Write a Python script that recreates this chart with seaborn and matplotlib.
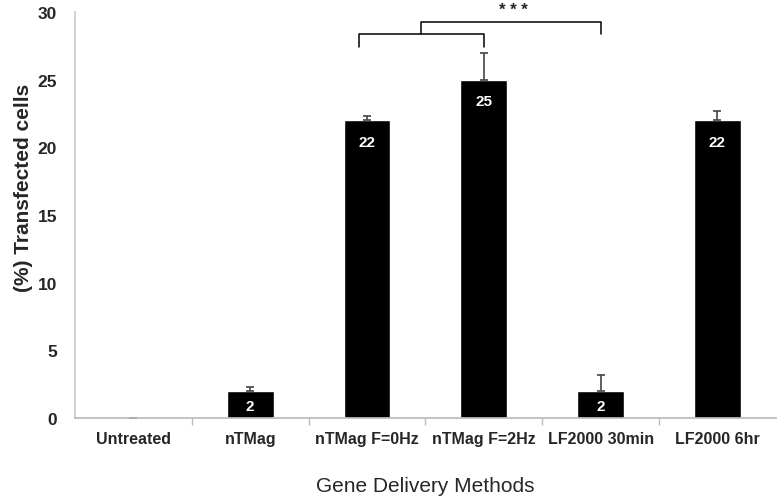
import numpy as np
import pandas as pd
import seaborn as sns
import matplotlib.pyplot as plt

methods = ["Untreated", "nTMag", "nTMag F=0Hz", "nTMag F=2Hz", "LF2000 30min", "LF2000 6hr"]
transfected = [0, 2, 22, 25, 2, 22]
errors = [0, 0.3, 0.3, 2.0, 1.2, 0.7]
bar_labels = ["", "2", "22", "25", "2", "22"]

sns.set_theme(style="white")
plt.rcParams['font.family'] = ['Liberation Sans', 'DejaVu Sans']

df = pd.DataFrame({"method": methods, "value": transfected})

fig = plt.figure(figsize=(7.77, 5.02), dpi=100)
ax = fig.add_axes([0.0965, 0.165, 0.902, 0.809])

sns.barplot(data=df, x="method", y="value", color="black", width=0.4,
            saturation=1, errorbar=None, ax=ax)

x = np.arange(len(methods))
ax.errorbar(x, transfected, yerr=[np.zeros(len(errors)), errors], fmt="none",
            ecolor="#444444", elinewidth=1.2, capsize=3, capthick=1.2)

for i, (v, lab) in enumerate(zip(transfected, bar_labels)):
    if not lab:
        continue
    ypos = v - 1.6 if v > 5 else v / 2 - 0.1
    ax.text(i, ypos, lab, color="white", fontsize=11, fontweight="bold",
            ha="center", va="center")

# significance brackets
lw = 1.1
ax.plot([1.93, 1.93, 3, 3], [27.4, 28.4, 28.4, 27.4], color="black", lw=lw, clip_on=False)
mid = (1.93 + 3) / 2
ax.plot([mid, mid, 4, 4], [28.4, 29.3, 29.3, 28.4], color="black", lw=lw, clip_on=False)
ax.text((mid + 4) / 2 + 0.02, 29.6, "* * *", ha="center", va="bottom", fontsize=12,
        fontweight="bold", clip_on=False)

ax.set_ylim(0, 30)
ax.set_xlim(-0.5, len(methods) - 0.5)
ax.set_yticks(range(0, 31, 5))
ax.set_xticks(x)
ax.set_xticks(np.arange(0.5, len(methods) - 0.5, 1), minor=True)
ax.tick_params(axis="x", which="major", length=0, pad=9)
ax.tick_params(axis="x", which="minor", length=5, color="#bbbbbb", direction="out")
ax.tick_params(axis="y", length=5, color="#bbbbbb", direction="out", pad=8)
ax.xaxis.set_tick_params(bottom=True, which="minor")
for lbl in ax.get_xticklabels():
    lbl.set_fontweight("bold")
    lbl.set_fontsize(11.5)
for lbl in ax.get_yticklabels():
    lbl.set_fontweight("bold")
    lbl.set_fontsize(12.5)

ax.set_xlabel("Gene Delivery Methods", fontsize=15, labelpad=22)
ax.set_ylabel("(%) Transfected cells", fontsize=15, fontweight="bold")
ax.yaxis.set_label_coords(-0.06, 0.57)

sns.despine(ax=ax)
ax.spines["left"].set_color("#cccccc")
ax.spines["bottom"].set_color("#bbbbbb")

fig.savefig("out.png", dpi=100)
